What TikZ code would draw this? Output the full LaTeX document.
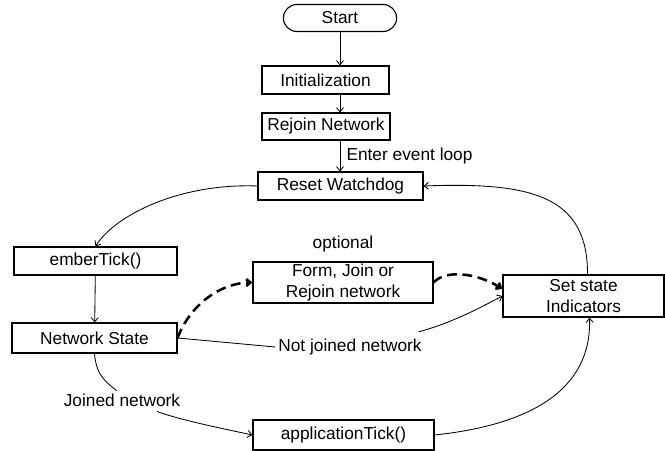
\documentclass[tikz,border=0pt]{standalone}
\usepackage{fontspec}
\setmainfont{Liberation Sans}
\usepackage{tikz}
\usetikzlibrary{shapes,arrows,positioning,calc,arrows.meta}

\tikzset{
    box/.style={draw, line width=0.8pt, inner sep=1pt, align=center},
    startbox/.style={draw, line width=0.8pt, rounded rectangle, inner sep=1pt},
    flow/.style={->, line width=0.6pt},
    optflow/.style={->, line width=1.8pt, dash pattern=on 7pt off 4pt},
    >={Straight Barb[length=3pt,width=5pt]}
}

\begin{document}
\begin{tikzpicture}[x=0.025cm, y=-0.025cm, font=\fontsize{12.3}{14.5}\selectfont]
    \useasboundingbox (0,0) rectangle (665,451);

    % top chain
    \node[startbox, minimum width=2.9cm, minimum height=0.675cm] (start) at (340,18) {Start};
    \node[box, minimum width=3.175cm, minimum height=0.7cm] (init) at (325.5,80) {Initialization};
    \node[box, minimum width=3.2cm, minimum height=0.675cm] (rejoin) at (326,126.5) {Rejoin Network};
    \node[box, minimum width=4.125cm, minimum height=0.7cm] (reset) at (340.5,186) {Reset Watchdog};

    % loop
    \node[box, minimum width=4.075cm, minimum height=0.7cm] (ember) at (95.5,261) {emberTick()};
    \node[box, minimum width=4.125cm, minimum height=0.75cm] (netstate) at (94.5,338) {Network State};
    \node[box, minimum width=4.5cm, minimum height=1.025cm] (form) at (343,282.5) {Form, Join or\\Rejoin network};
    \node[above=3pt of form] (optional) {optional};
    \node[box, minimum width=4.025cm, minimum height=1.05cm] (setstate) at (583.5,296) {Set state\\Indicators};
    \node[box, minimum width=4.525cm, minimum height=0.75cm] (apptick) at (343.5,435) {applicationTick()};
    \node[inner sep=2pt] (notjoined) at (350,347) {Not joined network};
    \node[inner sep=2pt] (joined) at (122,400) {Joined network};

    \draw[flow] (start.south) -- (start.south |- init.north);
    \draw[flow] (start.south |- init.south) -- (start.south |- rejoin.north);
    \draw[flow] (start.south |- rejoin.south) -- (start.south |- reset.north)
        node[midway, right, xshift=1pt] {Enter event loop};

    \draw[flow] (reset.west) .. controls (180,183) and (115,215) .. (ember.north);
    \draw[flow] (ember) -- (netstate);

    \draw[optflow] (netstate.east) .. controls (190,305) and (220,283) .. (form.west);
    \draw[optflow] (form.east) .. controls (445,270) and (475,272) .. (setstate.175);

    \draw[line width=0.6pt] (netstate.east) -- (notjoined.west);
    \draw[flow] ($(notjoined.north east)+(-6,-4)$) .. controls (455,322) and (485,305) .. (setstate.west);

    \draw[line width=0.6pt] (netstate.south) .. controls (96,370) and (100,378) .. (joined.120);
    \draw[flow] ($(joined.south)+(35,2)$) .. controls (180,420) and (220,428) .. (apptick.west);

    \draw[flow] (apptick.east) .. controls (530,425) and (592,390) .. ($(setstate.south)+(6,0)$);
    \draw[flow] ($(setstate.north)+(4,0)$) .. controls (588,195) and (530,182) .. (reset.east);
\end{tikzpicture}
\end{document}
